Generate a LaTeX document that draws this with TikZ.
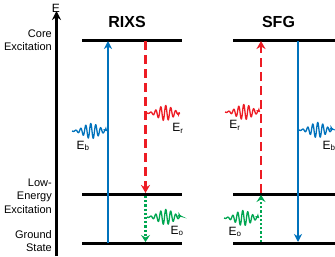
\documentclass[tikz,border=0pt]{standalone}
\usepackage{fontspec}
\setmainfont{Liberation Sans}
\usetikzlibrary{arrows.meta}
\definecolor{myblue}{RGB}{0,114,188}
\definecolor{myred}{RGB}{237,28,36}
\definecolor{mygreen}{RGB}{0,166,81}
\tikzset{
 levelline/.style={line width=3pt,black},
 axisline/.style={line width=3.5pt,-{Stealth[length=9pt,width=9pt]}},
 bluearr/.style={myblue,line width=2.4pt,-{Stealth[length=8pt,width=8pt,inset=2.5pt]}},
 redarr/.style={myred,line width=2.8pt,dash pattern=on 9pt off 5pt,-{Stealth[length=8pt,width=9pt,inset=2.5pt]}},
 greenarr/.style={mygreen,line width=2.5pt,dash pattern=on 2.2pt off 2pt,-{Stealth[length=7pt,width=9pt,inset=2.5pt]}},
 sidelabel/.style={anchor=east,align=right,font=\fontsize{11}{13.5}\selectfont,inner sep=0pt},
 titlelabel/.style={font=\fontsize{16}{18}\selectfont\bfseries,inner sep=0pt},
 elabel/.style={font=\fontsize{12}{14}\selectfont,inner sep=0pt},
 wave/.style={line width=1.3pt,-{Stealth[length=4pt,width=5pt]}}
}
\newcommand{\wavepacket}[4]{%
 \draw[wave,#1] plot[domain=0:#4,samples=220,smooth]
   ({#2+\x},{#3+7.5*exp(0-((\x-0.55*#4)/(0.3*#4))^2)*sin(360*\x/5)});
}
\begin{document}
\begin{tikzpicture}[x=1pt,y=-1pt]
\useasboundingbox (0,0) rectangle (335,257);
% energy axis
\coordinate (ax0) at (56.5,256);
\coordinate (ax1) at (56.5,11);
\draw[axisline] (ax0) -- (ax1);
\node[font=\fontsize{12}{14}\selectfont,inner sep=0pt] (elab) at (56,8) {E};
% side labels
\node[sidelabel] (core) at (52,40) {Core\\Excitation};
\node[sidelabel] (low) at (52,196) {Low-\\Energy\\Excitation};
\node[sidelabel] (ground) at (52,241) {Ground\\State};
% titles
\node[titlelabel] (rixs) at (127,22) {RIXS};
\node[titlelabel] (sfg) at (278.5,22) {SFG};
% levels
\coordinate (rt0) at (82,40);  \coordinate (rt1) at (182,40);
\coordinate (rm0) at (82,194); \coordinate (rm1) at (182,194);
\coordinate (rg0) at (82,243); \coordinate (rg1) at (182,243);
\coordinate (st0) at (233,40);  \coordinate (st1) at (335,40);
\coordinate (sm0) at (233,194); \coordinate (sm1) at (335,194);
\coordinate (sg0) at (233,243); \coordinate (sg1) at (335,243);
\draw[levelline] (rt0) -- (rt1);
\draw[levelline] (rm0) -- (rm1);
\draw[levelline] (rg0) -- (rg1);
\draw[levelline] (st0) -- (st1);
\draw[levelline] (sm0) -- (sm1);
\draw[levelline] (sg0) -- (sg1);
% RIXS transitions
\coordinate (rb0) at (108,243); \coordinate (rb1) at (108,41);
\draw[bluearr] (rb0) -- (rb1);
\coordinate (rr0) at (145.5,41); \coordinate (rr1) at (145.5,193);
\draw[redarr] (rr0) -- (rr1);
\coordinate (rgr0) at (145.5,196); \coordinate (rgr1) at (145.5,242);
\draw[greenarr] (rgr0) -- (rgr1);
% SFG transitions
\coordinate (sr0) at (261,193); \coordinate (sr1) at (261,41);
\draw[redarr] (sr0) -- (sr1);
\coordinate (sgr0) at (261,242); \coordinate (sgr1) at (261,195);
\draw[greenarr] (sgr0) -- (sgr1);
\coordinate (sb0) at (298,41); \coordinate (sb1) at (298,242);
\draw[bluearr] (sb0) -- (sb1);
% wave packets
\wavepacket{myblue}{72}{131}{35}
\wavepacket{myred}{147}{113}{33}
\wavepacket{mygreen}{147}{217}{34}
\wavepacket{myred}{225}{112}{35}
\wavepacket{myblue}{299}{130}{34}
\wavepacket{mygreen}{224}{218}{35}
% photon labels
\node[elabel] (eb1) at (83,146) {E\textsubscript{b}};
\node[elabel] (er1) at (178,128) {E\textsubscript{r}};
\node[elabel] (eo1) at (177,231) {E\textsubscript{o}};
\node[elabel] (er2) at (235,125) {E\textsubscript{r}};
\node[elabel] (eb2) at (329,146) {E\textsubscript{b}};
\node[elabel] (eo2) at (235,232) {E\textsubscript{o}};
\end{tikzpicture}
\end{document}
